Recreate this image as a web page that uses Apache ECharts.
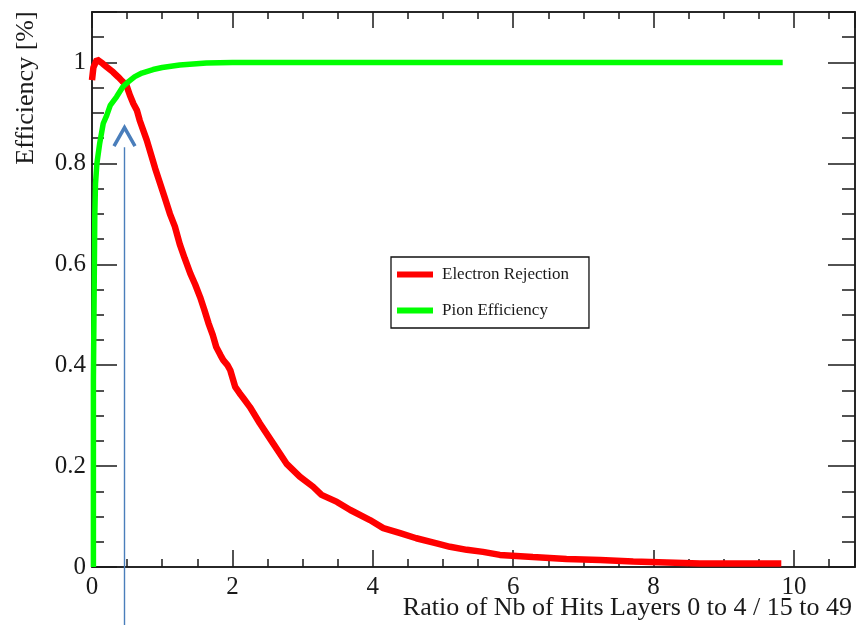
<!DOCTYPE html>
<html>
<head>
<meta charset="utf-8">
<script src="https://cdn.jsdelivr.net/npm/echarts@6/dist/echarts.min.js"></script>
<style>
  html, body { margin: 0; padding: 0; background: #fff; }
  #chart { width: 865px; height: 625px; }
</style>
</head>
<body>
<div id="chart"></div>
<script>
// Electron rejection versus the cut on the hit-layer ratio
const electronX = [0, 0.02, 0.07, 0.15, 0.21, 0.30, 0.375, 0.43, 0.49, 0.54, 0.59, 0.64, 0.68, 0.78, 0.90, 1.03, 1.11, 1.18, 1.25,
  1.32, 1.40, 1.47, 1.54, 1.60, 1.66, 1.72, 1.77, 1.83, 1.87, 1.93, 1.97, 2.04, 2.10, 2.16, 2.25, 2.39, 2.58, 2.77,
  2.96, 3.15, 3.27, 3.49, 3.68, 3.96, 4.15, 4.39, 4.62, 4.91, 5.10, 5.34, 5.57, 5.81, 6.28, 6.76, 7.24, 7.71, 8.19,
  8.66, 9.13, 9.82];
const electronY = [0.965, 0.99, 1.006, 0.998, 0.991, 0.981, 0.971, 0.963, 0.955, 0.935, 0.918, 0.905, 0.885, 0.846, 0.790, 0.735, 0.700, 0.675, 0.640,
  0.612, 0.582, 0.560, 0.535, 0.510, 0.483, 0.460, 0.436, 0.420, 0.410, 0.400, 0.390, 0.357, 0.345, 0.334, 0.317, 0.285, 0.245, 0.205,
  0.179, 0.159, 0.143, 0.129, 0.113, 0.093, 0.077, 0.067, 0.057, 0.047, 0.040, 0.034, 0.030, 0.024, 0.020, 0.016, 0.014, 0.011, 0.009,
  0.007, 0.007, 0.007];

// Pion efficiency versus the same cut
const pionX = [0.02, 0.02, 0.04, 0.04, 0.05, 0.07, 0.11, 0.16, 0.21, 0.26, 0.35, 0.44, 0.52, 0.61, 0.71, 0.87, 1.0, 1.25, 1.63, 2.0,
  2.65, 3.5, 5.0, 7.0, 9.84];
const pionY = [0.0, 0.37, 0.37, 0.70, 0.76, 0.80, 0.84, 0.879, 0.895, 0.915, 0.932, 0.952, 0.962, 0.972, 0.979, 0.986, 0.990, 0.995, 0.999, 1.0,
  1.0, 1.0, 1.0, 1.0, 1.0];

const seriesNames = ['Electron Rejection', 'Pion Efficiency'];
const xTitle = 'Ratio of Nb of Hits Layers 0 to 4 / 15 to 49';
const yTitle = 'Efficiency [%]';

// Axis ranges and tick spacing
const xRange = [0, 10.87];
const yRange = [0, 1.1];
const xMajor = 2, xMinor = 0.5;
const yMajor = 0.2, yMinor = 0.05;

// Chosen cut, marked with an arrow (ratio value, arrow tip and base efficiency)
const cutRatio = 0.463;
const arrowTip = 0.871;
const arrowBase = 0.834;

const FONT = 'Liberation Serif';
const AXIS_COLOR = '#1a1a1a';
const TEXT_COLOR = '#1a1a1a';

function onGrid(val, step) {
  const q = val / step;
  return Math.abs(q - Math.round(q)) < 1e-6;
}

function xAxisDef(position, interval, tickLen, withLabels) {
  return {
    type: 'value', position, min: xRange[0], max: xRange[1], interval,
    axisLine: { show: true, onZero: false, lineStyle: { color: AXIS_COLOR, width: 1.5 } },
    axisTick: { show: true, inside: true, length: tickLen, lineStyle: { color: AXIS_COLOR, width: 1.5 } },
    axisLabel: withLabels ? {
      show: true, margin: 8, fontFamily: FONT, fontSize: 25, color: TEXT_COLOR,
      formatter: v => onGrid(v, xMajor) ? String(v) : ''
    } : { show: false },
    splitLine: { show: false }
  };
}

function yAxisDef(position, interval, tickLen, withLabels) {
  return {
    type: 'value', position, min: yRange[0], max: yRange[1], interval,
    axisLine: { show: true, onZero: false, lineStyle: { color: AXIS_COLOR, width: 1.5 } },
    axisTick: { show: true, inside: true, length: tickLen, lineStyle: { color: AXIS_COLOR, width: 1.5 } },
    axisLabel: withLabels ? {
      show: true, margin: 6, fontFamily: FONT, fontSize: 25, color: TEXT_COLOR,
      formatter: v => onGrid(v, yMajor) ? String(Math.round(v * 10) / 10) : ''
    } : { show: false },
    splitLine: { show: false }
  };
}

const chart = echarts.init(document.getElementById('chart'), null, { renderer: 'canvas' });

chart.setOption({
  backgroundColor: '#fff',
  animation: false,
  grid: { left: 92, top: 12, right: 10, bottom: 58, containLabel: false },
  xAxis: [
    xAxisDef('bottom', xMajor, 17, true),
    xAxisDef('bottom', xMinor, 8, false),
    xAxisDef('top', xMajor, 16, false),
    xAxisDef('top', xMinor, 7, false)
  ],
  yAxis: [
    yAxisDef('left', yMajor, 25, true),
    yAxisDef('left', yMinor, 12, false),
    yAxisDef('right', yMajor, 27, false),
    yAxisDef('right', yMinor, 13, false)
  ],
  legend: {
    orient: 'vertical', left: 391, top: 257,
    padding: [9, 20, 9, 6], itemGap: 19,
    itemWidth: 36, itemHeight: 6, icon: 'rect',
    borderColor: '#111', borderWidth: 1.3, borderRadius: 0, backgroundColor: '#fff',
    textStyle: { fontFamily: FONT, fontSize: 17, color: TEXT_COLOR, padding: [0, 0, 0, 4] },
    data: seriesNames
  },
  series: [
    {
      name: seriesNames[0], type: 'line', xAxisIndex: 0, yAxisIndex: 0,
      showSymbol: false, symbol: 'none', smooth: false,
      lineStyle: { color: '#ff0000', width: 6.5 }, itemStyle: { color: '#ff0000' },
      data: electronX.map((x, i) => [x, electronY[i]])
    },
    {
      name: seriesNames[1], type: 'line', xAxisIndex: 0, yAxisIndex: 0,
      showSymbol: false, symbol: 'none', smooth: false,
      lineStyle: { color: '#00ff00', width: 5.5 }, itemStyle: { color: '#00ff00' },
      data: pionX.map((x, i) => [x, pionY[i]])
    }
  ]
});

// Axis titles and the cut arrow
const tip = chart.convertToPixel({ xAxisIndex: 0, yAxisIndex: 0 }, [cutRatio, arrowTip]);
const base = chart.convertToPixel({ xAxisIndex: 0, yAxisIndex: 0 }, [cutRatio, arrowBase]);
const halfWidth = 10.5;

chart.setOption({
  graphic: [
    {
      type: 'text', x: 852, y: 608, z: 10,
      style: { text: xTitle, font: '26px "Liberation Serif"', fill: TEXT_COLOR,
        textAlign: 'right', textVerticalAlign: 'middle', align: 'right', verticalAlign: 'middle' }
    },
    {
      type: 'text', x: 26, y: 88, rotation: Math.PI / 2, z: 10,
      style: { text: yTitle, font: '26px "Liberation Serif"', fill: TEXT_COLOR,
        textAlign: 'center', textVerticalAlign: 'middle', align: 'center', verticalAlign: 'middle' }
    },
    {
      type: 'line', z: 10,
      shape: { x1: tip[0], y1: base[1] + 1, x2: tip[0], y2: 625 },
      style: { stroke: '#4a7ebb', lineWidth: 1.4 }
    },
    {
      type: 'polyline', z: 10,
      shape: { points: [[tip[0] - halfWidth, base[1]], [tip[0], tip[1]], [tip[0] + halfWidth, base[1]]] },
      style: { stroke: '#4a7ebb', lineWidth: 3.5, fill: null, lineJoin: 'miter' }
    }
  ]
});
</script>
</body>
</html>
